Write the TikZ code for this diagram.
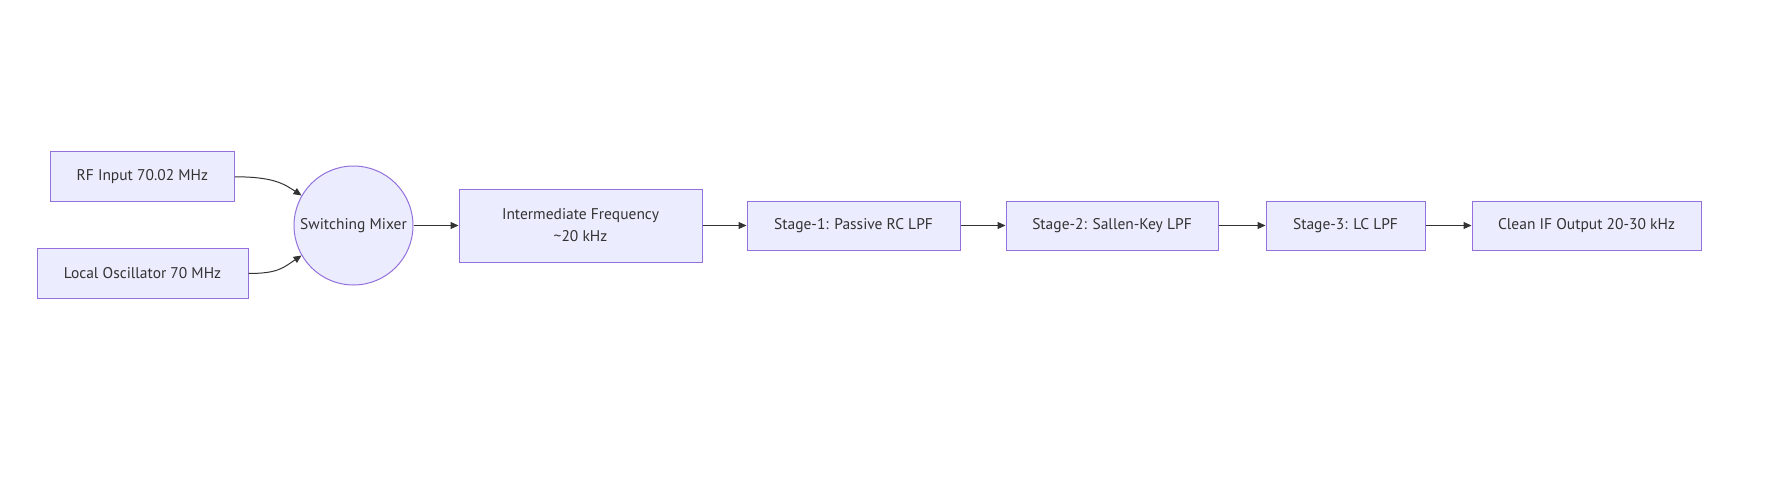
\documentclass[tikz,border=0pt]{standalone}
\usepackage{fontspec}
\setmainfont{PT Sans}
\definecolor{nodefill}{HTML}{ECECFF}
\definecolor{nodeline}{HTML}{9370DB}
\definecolor{edge}{HTML}{333333}
\definecolor{txt}{HTML}{333333}
\usetikzlibrary{arrows.meta}
\begin{document}
\begin{tikzpicture}[x=1pt,y=-1pt,
  base/.style={draw=nodeline,fill=nodefill,line width=1pt,text=txt,inner sep=0pt,font=\fontsize{15.5}{22}\selectfont,align=center},
  box/.style={base,rectangle,minimum height=49pt},
  roundnode/.style={base,circle,minimum size=119pt},
  arr/.style={draw=edge,line width=1pt,-{Triangle[length=8pt,width=7pt]}}]
\useasboundingbox (0,0) rectangle (1769,495);
\node[box,minimum width=184pt,minimum height=50pt] (rf) at (142.3,176.8) {RF Input 70.02 MHz};
\node[box,minimum width=211pt,minimum height=50pt] (lo) at (142.5,273.5) {Local Oscillator 70 MHz};
\node[roundnode] (mix) at (353.5,225.5) {Switching Mixer};
\node[box,minimum width=243pt,minimum height=73pt] (if) at (580.5,225.5) {Intermediate Frequency\\\textasciitilde 20 kHz};
\node[box,minimum width=213pt] (s1) at (853.5,225.5) {Stage-1: Passive RC LPF};
\node[box,minimum width=212pt] (s2) at (1112,225.5) {Stage-2: Sallen-Key LPF};
\node[box,minimum width=159pt] (s3) at (1345.5,225.5) {Stage-3: LC LPF};
\node[box,minimum width=229pt] (out) at (1586.5,225.5) {Clean IF Output 20-30 kHz};
\draw[arr] (rf.east) .. controls +(38,0) and +(-18,-12) .. (mix.150);
\draw[arr] (lo.east) .. controls +(30,0) and +(-18,12) .. (mix.210);
\draw[arr] (mix) -- (if);
\draw[arr] (if) -- (s1);
\draw[arr] (s1) -- (s2);
\draw[arr] (s2) -- (s3);
\draw[arr] (s3) -- (out);
\end{tikzpicture}
\end{document}
